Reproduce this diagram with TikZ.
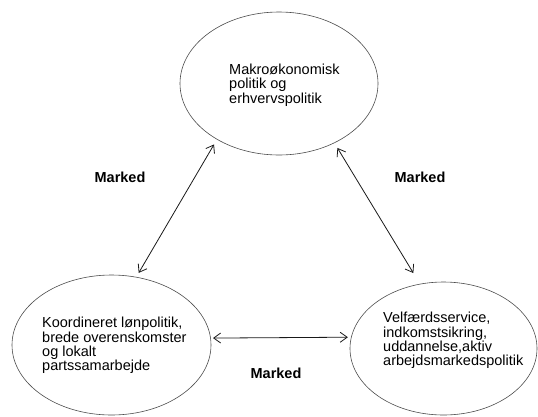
\documentclass[tikz,border=0pt]{standalone}
\usepackage{fontspec}
\setmainfont{Liberation Sans}
\usetikzlibrary{shapes.geometric,arrows.meta}
\begin{document}
\begin{tikzpicture}[x=1pt,y=-1pt,
    area/.style={draw=black!70, ellipse, line width=0.6pt, inner sep=0pt, outer sep=0pt, minimum width=198pt, minimum height=143pt},
    areatext/.style={align=left, inner sep=0pt, anchor=west, text=black, font=\fontsize{14.5}{14.3}\selectfont},
    market/.style={inner sep=0pt, text=black, font=\fontsize{14.5}{14.3}\selectfont\bfseries},
    link/.style={{Straight Barb[length=7pt,width=10pt]}-{Straight Barb[length=7pt,width=10pt]}, line width=0.8pt, black!90}]
                \useasboundingbox (0,0) rectangle (538,416);

                \node[area] (macro) at (279,83.5) {};
                \node[area, minimum width=199pt, minimum height=140pt] (wage) at (111.5,345) {};
                \node[area, minimum width=187pt, minimum height=133pt] (welfare) at (443.5,348.5) {};

                \node[areatext] (macrotext) at (229,85) {Makroøkonomisk\\politik og\\erhvervspolitik};
                \node[areatext] (wagetext) at (42,345.5) {Koordineret lønpolitik,\\brede overenskomster\\og lokalt\\partssamarbejde};
                \node[areatext] (welfaretext) at (383,340.5) {Velfærdsservice,\\indkomstsikring,\\uddannelse,aktiv\\arbejdsmarkedspolitik};

                \node[market] (leftmarket) at (120,177.5) {Marked};
                \node[market] (rightmarket) at (420,177.5) {Marked};
                \node[market] (lowmarket) at (276,373) {Marked};

                \draw[link, shorten <=6pt, shorten >=5pt] (macro.222.5) -- (wage.70.7);
                \draw[link, shorten <=6pt, shorten >=13pt] (macro.313.4) -- (welfare.110.4);
                \draw[link, shorten <=2.5pt, shorten >=3.5pt] (wage.4.5) -- (welfare.173.1);
            \end{tikzpicture}
\end{document}
